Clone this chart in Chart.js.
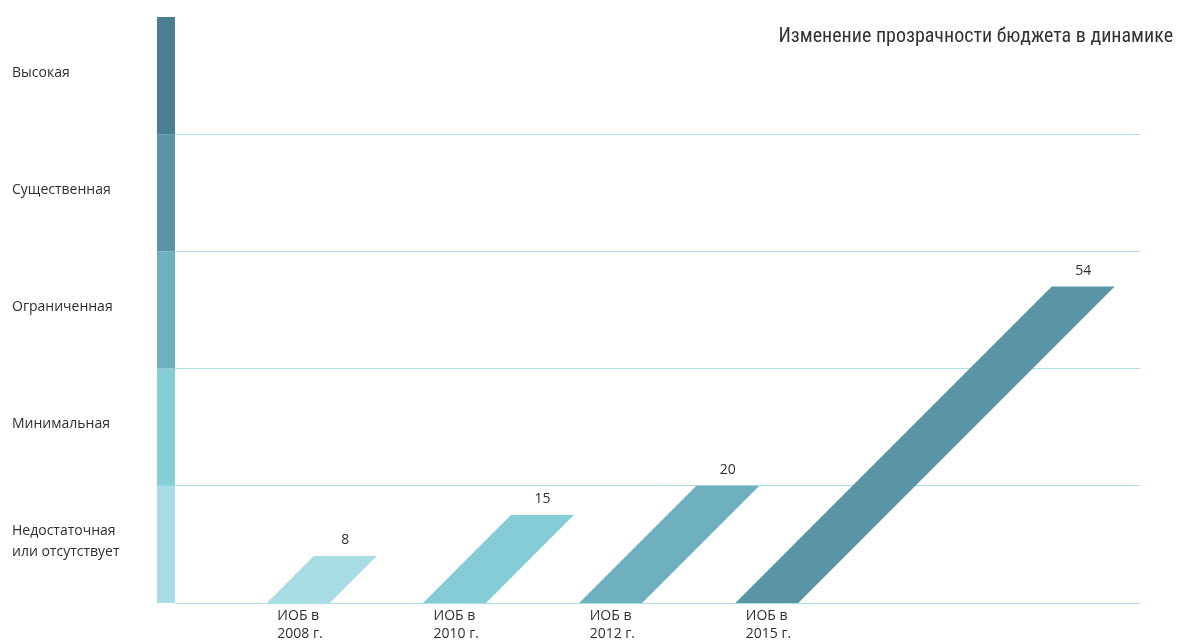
<!DOCTYPE html>
<html>
<head>
<meta charset="utf-8">
<script src="https://cdn.jsdelivr.net/npm/chart.js@4.4.0/dist/chart.umd.min.js"></script>
<style>
  html, body { margin: 0; padding: 0; background: #fff; }
  #wrap { width: 1177px; height: 643px; }
</style>
</head>
<body>
<div id="wrap"><canvas id="grafico"></canvas></div>
<script>
// dados do gráfico
const titulo = 'Изменение прозрачности бюджета в динамике';
const categorias = [['ИОБ в', '2008 г.'], ['ИОБ в', '2010 г.'], ['ИОБ в', '2012 г.'], ['ИОБ в', '2015 г.']];
const valores = [8, 15, 20, 54];
const coresBarras = ['#a8dde5', '#85cdd6', '#6eb0be', '#5a95a6'];
const niveis = [['Недостаточная', 'или отсутствует'], 'Минимальная', 'Ограниченная', 'Существенная', 'Высокая'];
const limitesNiveis = [0, 20, 40, 60, 80, 100];
const coresNiveis = ['#a8dde5', '#85cdd7', '#6fb0bf', '#5995a7', '#4a7e91'];

const corTexto = '#2f2f2f';
const corGrade = '#ace0e7';
const fonte = '"Open Sans", "Noto Sans", sans-serif';

const centrosNiveis = niveis.map((_, i) => (limitesNiveis[i] + limitesNiveis[i + 1]) / 2);

// desenha as barras inclinadas, a faixa lateral e o título
const pluginParalelogramos = {
    id: 'paralelogramos',
    afterDatasetsDraw(chart) {
        const ctx = chart.ctx;
        const area = chart.chartArea;
        const escalaY = chart.scales.y;

        // faixa colorida dos níveis
        niveis.forEach((_, i) => {
            const topo = escalaY.getPixelForValue(limitesNiveis[i + 1]);
            const baixo = escalaY.getPixelForValue(limitesNiveis[i]);
            ctx.fillStyle = coresNiveis[i];
            ctx.fillRect(area.left - 18, topo, 18, baixo - topo);
        });

        const meta = chart.getDatasetMeta(0);
        meta.data.forEach((barra, i) => {
            const { x, y, base, width } = barra.getProps(['x', 'y', 'base', 'width'], true);
            const desvio = base - y;
            ctx.save();
            ctx.fillStyle = coresBarras[i];
            ctx.beginPath();
            ctx.moveTo(x - width / 2, base);
            ctx.lineTo(x + width / 2, base);
            ctx.lineTo(x + width / 2 + desvio, y);
            ctx.lineTo(x - width / 2 + desvio, y);
            ctx.closePath();
            ctx.fill();

            ctx.fillStyle = corTexto;
            ctx.font = '14px ' + fonte;
            ctx.textAlign = 'center';
            ctx.textBaseline = 'bottom';
            ctx.fillText(String(valores[i]), x + desvio, y - 9);
            ctx.restore();
        });
    },
    afterDraw(chart) {
        const ctx = chart.ctx;
        ctx.save();
        ctx.fillStyle = '#333';
        ctx.font = '20px "Liberation Sans Narrow", "Roboto Condensed", Roboto, sans-serif';
        ctx.textAlign = 'right';
        ctx.textBaseline = 'middle';
        ctx.fillText(titulo, chart.width - 4, 37);
        ctx.restore();
    }
};

const ctx = document.getElementById('grafico').getContext('2d');
new Chart(ctx, {
    type: 'bar',
    data: {
        datasets: [{
            data: valores.map((v, i) => ({ x: i, y: v })),
            backgroundColor: 'rgba(0,0,0,0)',
            barThickness: 63
        }]
    },
    options: {
        responsive: true,
        maintainAspectRatio: false,
        animation: false,
        layout: { padding: { top: 17, right: 37, left: 12, bottom: 0 } },
        plugins: {
            legend: { display: false },
            tooltip: { enabled: false }
        },
        scales: {
            x: {
                type: 'linear',
                min: -0.79,
                max: 5.39,
                offset: false,
                grid: { display: false, drawTicks: false, offset: false },
                border: { display: false },
                afterBuildTicks: scale => {
                    scale.ticks = categorias.map((_, i) => ({ value: i }));
                },
                afterFit: scale => { scale.height = 40; },
                ticks: {
                    autoSkip: false,
                    align: 'start',
                    labelOffset: -21,
                    padding: 4,
                    color: corTexto,
                    font: { family: fonte, size: 14, lineHeight: 1.3 },
                    callback: value => categorias[value]
                }
            },
            y: {
                min: 0,
                max: 100,
                grid: {
                    offset: true,
                    drawTicks: false,
                    lineWidth: 1,
                    // a linha do topo (100) não aparece
                    color: c => (c.type === 'tick' ? corGrade : 'rgba(0,0,0,0)')
                },
                border: { display: false },
                afterBuildTicks: scale => {
                    scale.ticks = centrosNiveis.map(v => ({ value: v }));
                },
                afterFit: scale => { scale.width = 163; },
                ticks: {
                    autoSkip: false,
                    crossAlign: 'far',
                    labelOffset: -3,
                    color: corTexto,
                    font: { family: fonte, size: 14, lineHeight: 1.5 },
                    callback: (value, index) => niveis[index]
                }
            }
        }
    },
    plugins: [pluginParalelogramos]
});
</script>
</body>
</html>
